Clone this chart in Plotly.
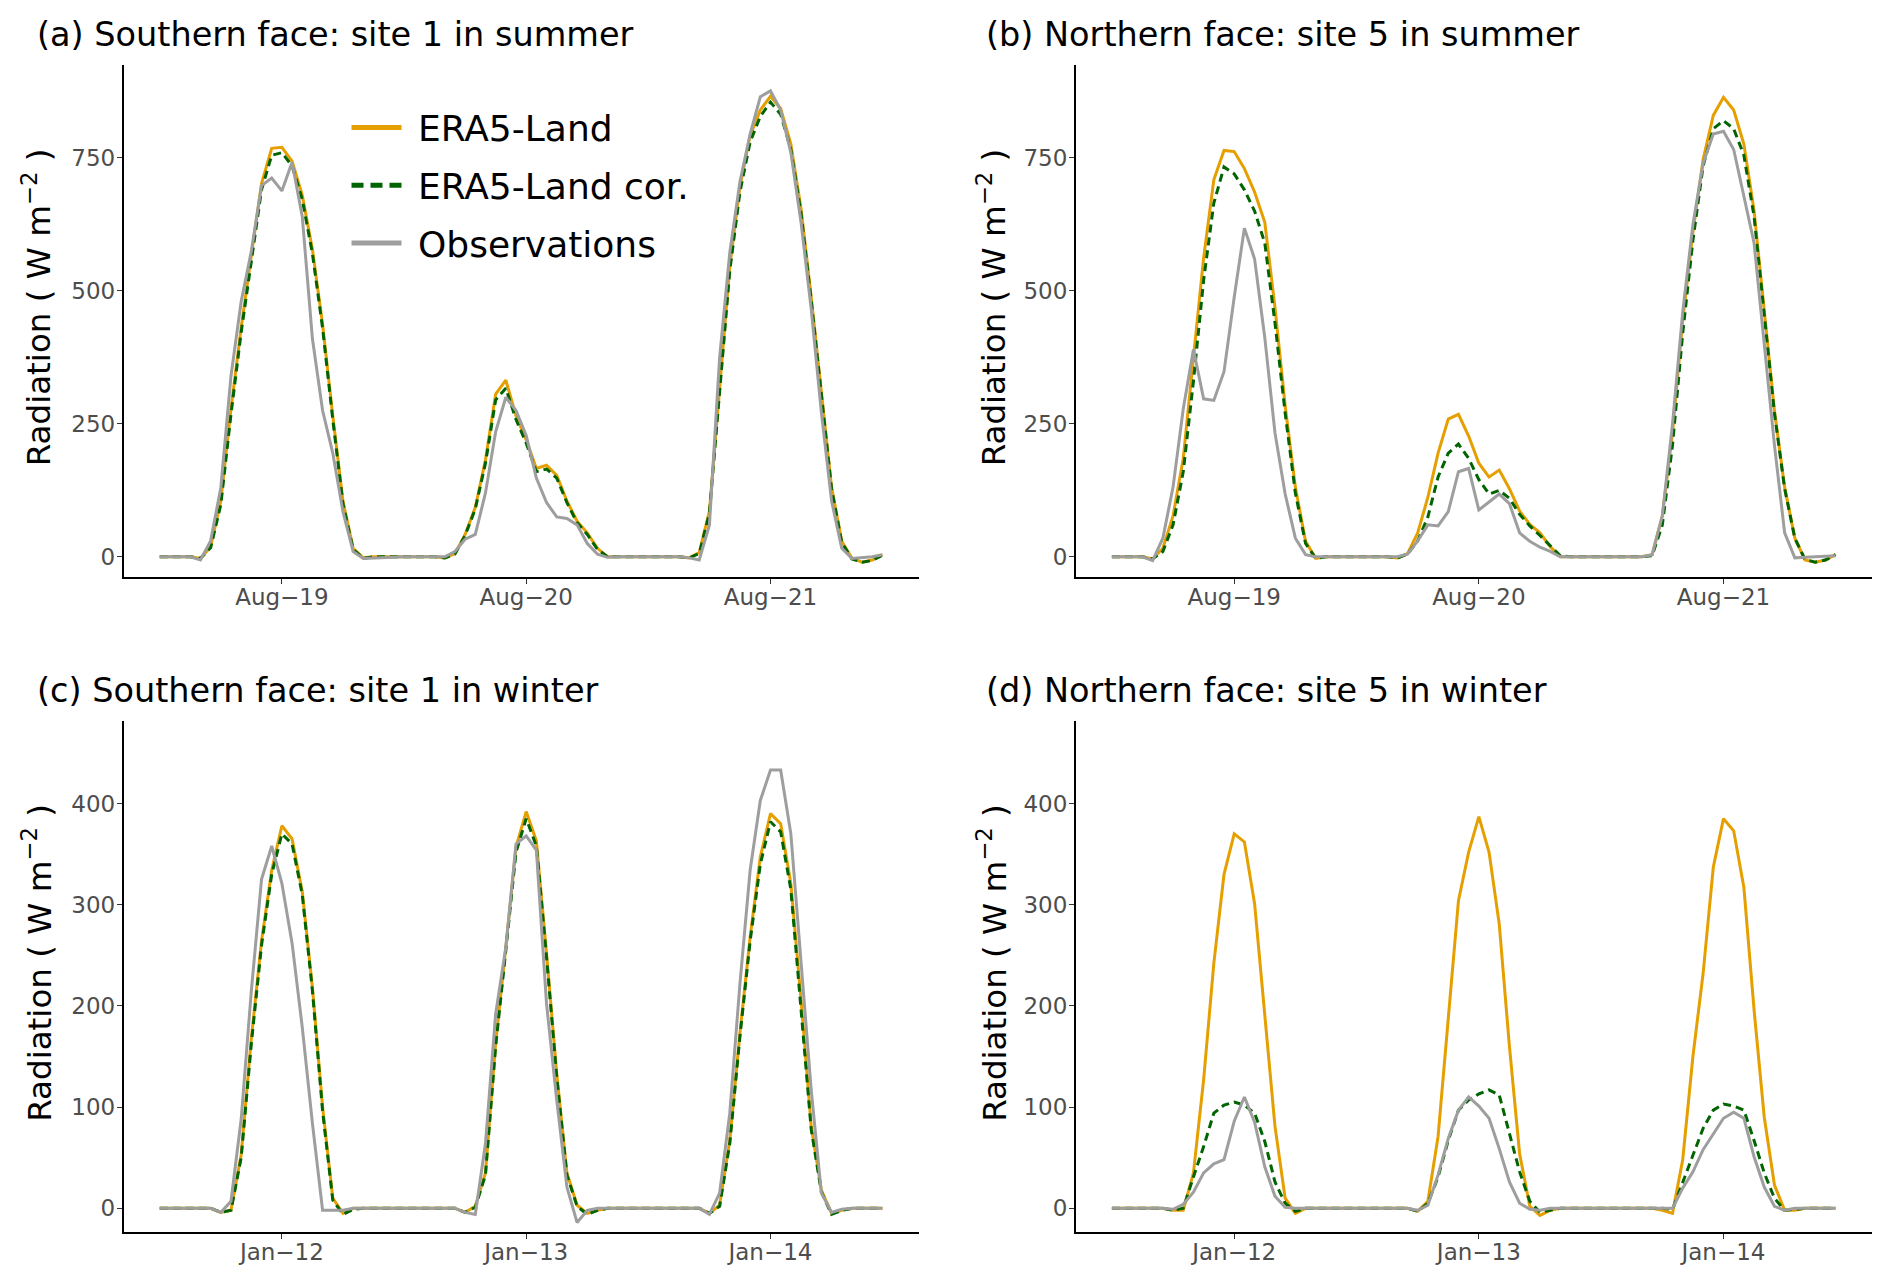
import pandas as pd
import plotly.graph_objects as go

# hourly time stamps (72 h shown per panel)
summer_time = pd.date_range("2019-08-18 12:00", periods=72, freq="h")
winter_time = pd.date_range("2020-01-11 12:00", periods=72, freq="h")

summer_ticks = ["2019-08-19", "2019-08-20", "2019-08-21"]
summer_labels = ["Aug\u221219", "Aug\u221220", "Aug\u221221"]
winter_ticks = ["2020-01-12", "2020-01-13", "2020-01-14"]
winter_labels = ["Jan\u221212", "Jan\u221213", "Jan\u221214"]

# (a) Southern face, site 1, summer
a_era5 = [0, 0, 0, 0, -3, 19, 105, 278, 431, 565, 702, 768,
          770, 744, 680, 578, 437, 265, 105, 16, -2, 0, 0, 0,
          0, 0, 0, 0, -2, 6, 42, 93, 182, 306, 332, 265,
          220, 166, 172, 153, 105, 67, 45, 16, 0, 0, 0, 0,
          0, 0, 0, 0, -2, 8, 86, 310, 546, 696, 792, 840,
          866, 843, 776, 655, 489, 310, 131, 29, -3, -10, -6, 4]
a_cor = [0, 0, 0, 0, -3, 17, 98, 268, 422, 556, 690, 755,
         760, 735, 672, 570, 430, 258, 100, 14, -3, 0, 0, 0,
         0, 0, 0, 0, -2, 5, 40, 90, 176, 295, 317, 258,
         214, 160, 165, 148, 102, 64, 42, 14, 0, 0, 0, 0,
         0, 0, 0, 0, -2, 6, 82, 303, 538, 686, 780, 828,
         855, 832, 766, 646, 482, 305, 128, 27, -4, -10, -7, 3]
a_obs = [0, 0, -1, 0, -6, 30, 130, 340, 480, 575, 698, 712,
         688, 742, 640, 410, 275, 195, 85, 10, -3, -2, -1, 0,
         0, 0, 0, 0, 0, 10, 33, 42, 120, 235, 300, 275,
         228, 148, 102, 75, 72, 60, 25, 5, -1, 0, 0, 0,
         0, 0, 0, 0, -2, -6, 60, 374, 572, 705, 795, 865,
         876, 840, 760, 629, 466, 271, 105, 16, -3, -2, 0, 4]

# (b) Northern face, site 5, summer
b_era5 = [0, 0, 0, 0, -4, 16, 77, 185, 374, 562, 709, 764,
          762, 730, 686, 629, 469, 284, 131, 29, -3, 0, 0, 0,
          0, 0, 0, 0, -2, 6, 45, 112, 195, 259, 268, 227,
          176, 150, 163, 128, 86, 61, 45, 19, 0, 0, 0, 0,
          0, 0, 0, 0, 0, 4, 77, 233, 444, 610, 747, 830,
          864, 840, 776, 651, 463, 275, 131, 35, -6, -10, -6, 4]
b_cor = [0, 0, 0, 0, -4, 10, 60, 160, 330, 520, 665, 733,
         720, 690, 650, 590, 440, 270, 120, 25, -3, 0, 0, 0,
         0, 0, 0, 0, -2, 5, 30, 75, 150, 195, 212, 185,
         145, 118, 125, 110, 80, 58, 40, 20, 2, 0, 0, 0,
         0, 0, 0, 0, 0, 2, 60, 210, 420, 595, 735, 805,
         820, 805, 755, 640, 455, 270, 128, 35, -5, -10, -6, 4]
b_obs = [0, 0, 0, 0, -7, 35, 131, 278, 390, 297, 294, 348,
         488, 618, 560, 412, 233, 118, 35, 4, 0, 0, 0, 0,
         0, 0, 0, 0, 0, 5, 30, 60, 58, 85, 160, 166,
         88, 103, 118, 100, 45, 29, 18, 10, 0, 0, 0, 0,
         0, 0, 0, 0, 0, 4, 77, 250, 460, 625, 740, 795,
         800, 766, 680, 590, 400, 210, 45, -2, -1, 0, 0, 2]

# (c) Southern face, site 1, winter
c_era5 = [0, 0, 0, 0, 0, 0, -4, -2, 53, 168, 264, 334,
          378, 365, 313, 218, 100, 10, -5, 0, 0, 0, 0, 0,
          0, 0, 0, 0, 0, 0, -4, 2, 35, 163, 258, 357,
          392, 363, 252, 133, 35, 3, -5, -2, 0, 0, 0, 0,
          0, 0, 0, 0, 0, 0, -5, 3, 67, 173, 268, 347,
          390, 380, 321, 206, 81, 18, -5, -2, 0, 0, 0, 0]
c_cor = [0, 0, 0, 0, 0, 0, -4, -2, 50, 163, 260, 330,
         370, 360, 310, 215, 96, 8, -6, -1, 0, 0, 0, 0,
         0, 0, 0, 0, 0, 0, -4, 1, 33, 160, 255, 352,
         385, 358, 248, 130, 33, 2, -6, -2, 0, 0, 0, 0,
         0, 0, 0, 0, 0, 0, -5, 2, 64, 170, 264, 340,
         382, 372, 315, 200, 78, 16, -6, -2, 0, 0, 0, 0]
c_obs = [0, 0, 0, 0, 0, 0, -4, 7, 88, 215, 325, 358,
         321, 262, 179, 84, -2, -2, -2, 0, 0, 0, 0, 0,
         0, 0, 0, 0, 0, 0, -4, -6, 64, 192, 258, 360,
         368, 354, 202, 107, 21, -14, -2, 0, 0, 0, 0, 0,
         0, 0, 0, 0, 0, 0, -6, 15, 94, 222, 334, 403,
         433, 433, 370, 240, 117, 15, -4, -1, 0, 0, 0, 0]

# (d) Northern face, site 5, winter
d_era5 = [0, 0, 0, 0, 0, 0, -2, -2, 35, 127, 242, 330,
          370, 362, 301, 192, 81, 10, -5, 0, 0, 0, 0, 0,
          0, 0, 0, 0, 0, 0, -3, 7, 71, 186, 304, 352,
          387, 352, 281, 160, 54, 2, -7, -2, 0, 0, 0, 0,
          0, 0, 0, 0, 0, 0, -2, -5, 48, 150, 232, 337,
          385, 373, 317, 196, 90, 23, -2, -2, 0, 0, 0, 0]
d_cor = [0, 0, 0, 0, 0, 0, -2, 0, 31, 61, 94, 102,
         105, 102, 94, 66, 26, 5, -3, 0, 0, 0, 0, 0,
         0, 0, 0, 0, 0, 0, -3, 5, 31, 67, 97, 107,
         113, 117, 112, 74, 36, 7, -4, -2, 0, 0, 0, 0,
         0, 0, 0, 0, 0, 0, 0, -1, 26, 53, 79, 97,
         103, 101, 97, 67, 35, 10, -2, -1, 0, 0, 0, 0]
d_obs = [0, 0, 0, 0, 0, 0, -1, 4, 16, 35, 44, 48,
         86, 110, 85, 41, 12, 1, 0, 0, 0, 0, 0, 0,
         0, 0, 0, 0, 0, 0, -2, 3, 33, 69, 97, 110,
         101, 89, 59, 26, 5, -1, -2, 0, 0, 0, 0, 0,
         0, 0, 0, 0, 0, 0, 0, 0, 20, 36, 58, 74,
         89, 95, 89, 51, 21, 2, -2, 0, 0, 0, 0, 0]

ORANGE = "#E69F00"
GREEN = "#006400"
GREY = "#9E9E9E"
FONT = "DejaVu Sans"
W, H = 1892, 1278

panels = [
    ("(a) Southern face: site 1 in summer", summer_time, a_era5, a_cor, a_obs, summer_ticks, summer_labels),
    ("(b) Northern face: site 5 in summer", summer_time, b_era5, b_cor, b_obs, summer_ticks, summer_labels),
    ("(c) Southern face: site 1 in winter", winter_time, c_era5, c_cor, c_obs, winter_ticks, winter_labels),
    ("(d) Northern face: site 5 in winter", winter_time, d_era5, d_cor, d_obs, winter_ticks, winter_labels),
]

# panel boxes in pixels: left, right, top, bottom
x_cols = [(123.6, 918.6), (1075.7, 1871.8)]
y_rows = [(64.5, 577.0), (720.5, 1232.0)]
y_ranges = [[-38, 925.7], [-23.4, 482]]
y_ticks = [[0, 250, 500, 750], [0, 100, 200, 300, 400]]
title_x = [35.0, 984.0]
title_y = [34.0, 690.0]
ytitle_x = [37.5, 992.6]
ytitle_shift = 13

fig = go.Figure()
annotations = []

for i, (title, t, era5, cor, obs, tv, tt) in enumerate(panels):
    row, col = divmod(i, 2)
    n = i + 1
    xa = "x" if n == 1 else f"x{n}"
    ya = "y" if n == 1 else f"y{n}"

    fig.add_trace(go.Scatter(x=t, y=era5, mode="lines", line=dict(color=ORANGE, width=3),
                             xaxis=xa, yaxis=ya, showlegend=False))
    fig.add_trace(go.Scatter(x=t, y=cor, mode="lines", line=dict(color=GREEN, width=3, dash="8px,5px"),
                             xaxis=xa, yaxis=ya, showlegend=False))
    fig.add_trace(go.Scatter(x=t, y=obs, mode="lines", line=dict(color=GREY, width=3),
                             xaxis=xa, yaxis=ya, showlegend=False))

    pad = pd.Timedelta(hours=71 * 0.05)
    x0, x1 = x_cols[col]
    yt, yb = y_rows[row]
    fig.update_layout({
        ("xaxis" if n == 1 else f"xaxis{n}"): dict(
            domain=[x0 / W, x1 / W], anchor=ya, range=[t[0] - pad, t[-1] + pad],
            tickvals=tv, ticktext=tt, showgrid=False, zeroline=False,
            showline=True, linecolor="black", linewidth=1.5,
            ticks="outside", ticklen=5, tickwidth=1.2, tickcolor="#333333",
            ticklabelstandoff=-6,
            tickfont=dict(family=FONT, size=23, color="#4D4D4D")),
        ("yaxis" if n == 1 else f"yaxis{n}"): dict(
            domain=[1 - yb / H, 1 - yt / H], anchor=xa, range=y_ranges[row],
            tickvals=y_ticks[row], showgrid=False, zeroline=False,
            showline=True, linecolor="black", linewidth=1.5,
            ticks="outside", ticklen=5, tickwidth=1.2, tickcolor="#333333",
            ticklabelstandoff=-3,
            tickfont=dict(family=FONT, size=23, color="#4D4D4D")),
    })

    annotations.append(dict(text=title, x=title_x[col] / W, y=1 - title_y[row] / H,
                            xref="paper", yref="paper", xanchor="left", yanchor="middle",
                            showarrow=False, font=dict(family=FONT, size=33.5, color="black")))
    annotations.append(dict(text="Radiation ( W m<sup>\u22122</sup> )", textangle=-90,
                            x=ytitle_x[col] / W, y=1 - ((yt + yb) / 2 - ytitle_shift) / H,
                            xref="paper", yref="paper", xanchor="center", yanchor="middle",
                            showarrow=False, font=dict(family=FONT, size=32.5, color="black")))

# legend proxies (thicker keys as in the original)
for name, color, dash, grp in [("ERA5-Land", ORANGE, "solid", "g1"),
                               ("ERA5-Land cor.", GREEN, "12px,7px", "g2"),
                               ("Observations", GREY, "solid", "g3")]:
    fig.add_trace(go.Scatter(x=[None], y=[None], mode="lines", name="\u00a0" + name, legendgroup=grp,
                             line=dict(color=color, width=5, dash=dash)))

fig.update_layout(
    width=W, height=H,
    margin=dict(l=0, r=0, t=0, b=0),
    paper_bgcolor="white", plot_bgcolor="white",
    annotations=annotations,
    legend=dict(x=346.5 / W, y=1 - 97.5 / H, xanchor="left", yanchor="top",
                bgcolor="rgba(0,0,0,0)", font=dict(family=FONT, size=36, color="black"),
                itemwidth=50, tracegroupgap=8, traceorder="grouped"),
)

fig.write_html("out.html", config={"displayModeBar": False},
               post_script="document.body.style.margin='0px';")
